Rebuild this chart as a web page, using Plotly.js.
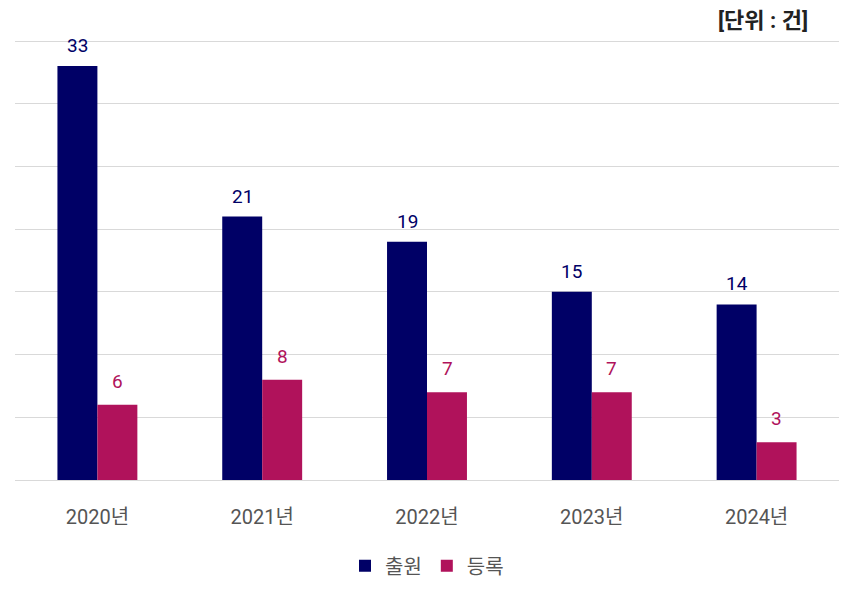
<!DOCTYPE html>
<html><head><meta charset="utf-8">
<script src="https://cdn.plot.ly/plotly-3.0.1.min.js"></script>
<style>body{margin:0;background:#fff}#c{width:854px;height:595px}</style>
</head><body><div id="c"></div>
<script>
const years = ['2020년','2021년','2022년','2023년','2024년'];
const applied = [33,21,19,15,14];
const registered = [6,8,7,7,3];
const seriesNames = ['출원','등록'];
const navy = '#000066', pink = '#b0125b';
const fontFam = 'Roboto, "Noto Sans CJK KR", sans-serif';

const traces = [
  {type:'bar', x:years, y:applied, name:seriesNames[0], marker:{color:navy}, hoverinfo:'none'},
  {type:'bar', x:years, y:registered, name:seriesNames[1], marker:{color:pink}, hoverinfo:'none'}
];
const ann = [];
years.forEach((yr,i)=>{
  ann.push({x:yr, y:applied[i], text:String(applied[i]), showarrow:false, xshift:-20, yshift:7, yanchor:'bottom', font:{size:19,color:navy,family:fontFam}});
  ann.push({x:yr, y:registered[i], text:String(registered[i]), showarrow:false, xshift:20, yshift:10, yanchor:'bottom', font:{size:19,color:pink,family:fontFam}});
});
ann.push({xref:'paper', yref:'paper', x:1, xshift:-29, y:1, yshift:17, xanchor:'right', yanchor:'middle', text:'<b>[단위 : 건]</b>', showarrow:false, font:{size:22,color:'#222',family:fontFam}});

Plotly.newPlot('c', traces, {
  width:854, height:595,
  margin:{l:15,r:15,t:37,b:115, autoexpand:false},
  paper_bgcolor:'#fff', plot_bgcolor:'#fff',
  barmode:'group', bargap:0.515, bargroupgap:0,
  font:{family:fontFam, color:'#555'},
  xaxis:{tickfont:{size:20,color:'#555'}, ticklabelstandoff:23, showline:false, zeroline:false, automargin:false},
  yaxis:{range:[0,35.32], tickvals:[0,5,10,15,20,25,30,35], showticklabels:false, gridcolor:'#d9d9d9', gridwidth:1, zeroline:true, zerolinecolor:'#d9d9d9', automargin:false},
  showlegend:true,
  legend:{orientation:'h', x:0.5, xanchor:'center', yref:'container', y:0.049, yanchor:'middle', font:{size:20,color:'#555'}, itemwidth:30},
  annotations:ann
}, {displayModeBar:false, staticPlot:true});
</script></body></html>
